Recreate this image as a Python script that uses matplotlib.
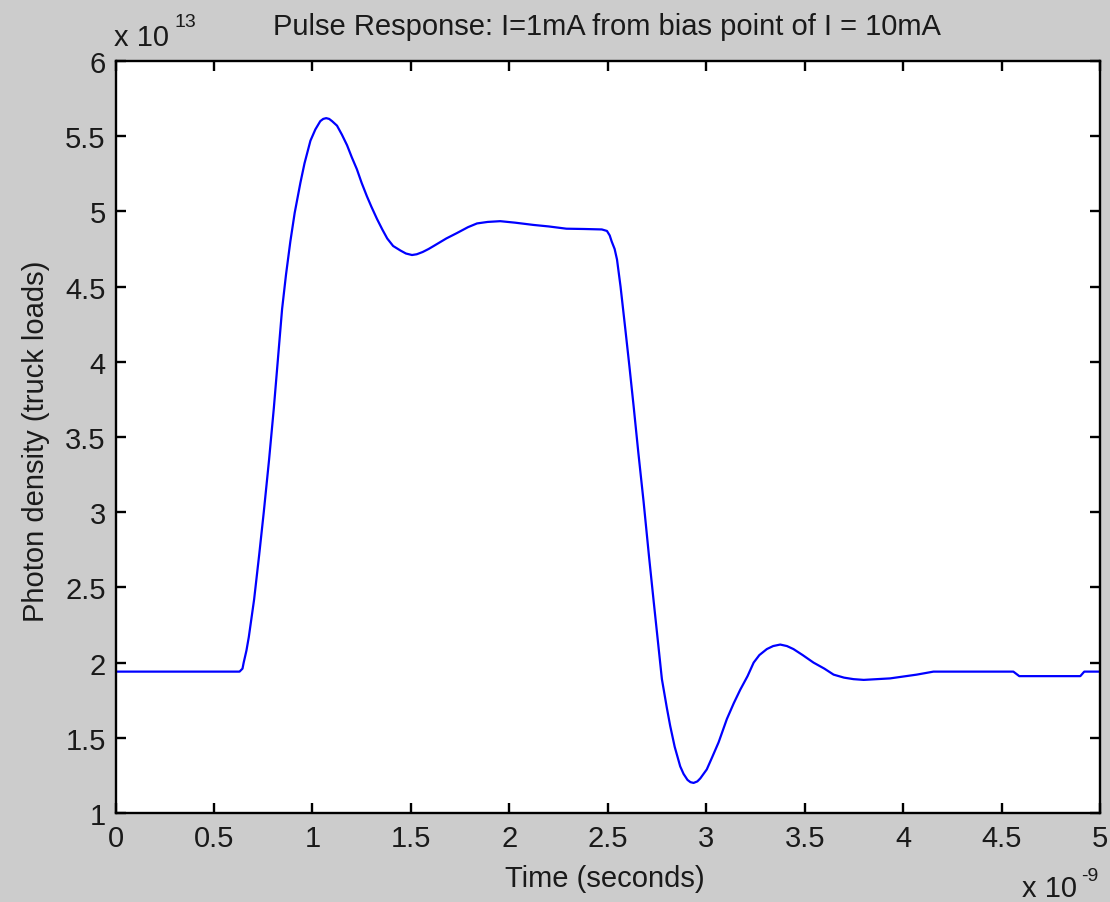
import matplotlib
matplotlib.use("Agg")
import matplotlib.pyplot as plt
from matplotlib.ticker import FixedLocator, FuncFormatter

# Data: time in units of 1e-9 s, photon density in units of 1e13
t_ns = [0.0, 0.63, 0.645, 0.651, 0.665, 0.677, 0.69, 0.704, 0.73, 0.753,
        0.78, 0.804, 0.825, 0.846, 0.866, 0.888, 0.91, 0.939, 0.96, 0.99,
        1.015, 1.04, 1.055, 1.07, 1.085, 1.10, 1.125, 1.15, 1.176, 1.20,
        1.226, 1.25, 1.277, 1.30, 1.328, 1.355, 1.38, 1.41, 1.447, 1.475,
        1.506, 1.53, 1.56, 1.59, 1.616, 1.68, 1.734, 1.79, 1.836, 1.89,
        1.954, 2.03, 2.123, 2.2, 2.29, 2.38, 2.47, 2.496, 2.51, 2.52,
        2.535, 2.547, 2.565, 2.589, 2.61, 2.631, 2.655, 2.682, 2.71, 2.733,
        2.75, 2.775, 2.80, 2.817, 2.84, 2.868, 2.885, 2.905, 2.92, 2.936,
        2.955, 2.97, 3.003, 3.03, 3.063, 3.105, 3.14, 3.173, 3.21, 3.241,
        3.27, 3.308, 3.34, 3.376, 3.41, 3.443, 3.49, 3.545, 3.6, 3.647,
        3.70, 3.748, 3.8, 3.934, 4.069, 4.154, 4.56, 4.59, 4.9, 4.92, 5.0]
density_e13 = [1.94, 1.94, 1.96, 2.00, 2.08, 2.17, 2.29, 2.42, 2.72, 3.00,
               3.35, 3.69, 4.02, 4.35, 4.58, 4.80, 4.99, 5.19, 5.32, 5.47,
               5.545, 5.60, 5.615, 5.62, 5.615, 5.60, 5.57, 5.51, 5.44, 5.36,
               5.28, 5.19, 5.10, 5.03, 4.95, 4.88, 4.82, 4.77, 4.74, 4.72,
               4.71, 4.715, 4.73, 4.75, 4.77, 4.82, 4.856, 4.895, 4.92, 4.93,
               4.935, 4.925, 4.91, 4.90, 4.885, 4.883, 4.88, 4.87, 4.84, 4.80,
               4.75, 4.68, 4.50, 4.22, 3.97, 3.71, 3.40, 3.07, 2.70, 2.41,
               2.20, 1.89, 1.70, 1.58, 1.44, 1.31, 1.26, 1.22, 1.205, 1.20,
               1.21, 1.23, 1.29, 1.37, 1.47, 1.625, 1.73, 1.82, 1.91, 2.00,
               2.05, 2.09, 2.11, 2.12, 2.11, 2.09, 2.05, 2.00, 1.96, 1.92,
               1.90, 1.89, 1.885, 1.895, 1.92, 1.94, 1.94, 1.91, 1.91, 1.94, 1.94]
x_ticks = [0, 0.5, 1, 1.5, 2, 2.5, 3, 3.5, 4, 4.5, 5]
y_ticks = [1, 1.5, 2, 2.5, 3, 3.5, 4, 4.5, 5, 5.5, 6]

title = "Pulse Response: I=1mA from bias point of I = 10mA"
xlabel = "Time (seconds)"
ylabel = "Photon density (truck loads)"

FONT = ["Liberation Sans", "DejaVu Sans"]
plt.rcParams['font.family'] = FONT
TXT = "#1a1a1a"
FS = 21

W, H = 1110, 903
fig = plt.figure(figsize=(W / 100, H / 100), dpi=100, facecolor="#cccccc")
L, R, B, T = 115.5, 1100, 814, 62
ax = fig.add_axes([L / W, (H - B) / H, (R - L) / W, (B - T) / H])
ax.set_facecolor("white")

xs = [v * 1e-9 for v in t_ns]
ys = [v * 1e13 for v in density_e13]
ax.plot(xs, ys, color="#0000ff", lw=1.6, solid_joinstyle="round")

ax.set_xlim(0, 5e-9)
ax.set_ylim(1e13, 6e13)
ax.xaxis.set_major_locator(FixedLocator([v * 1e-9 for v in x_ticks]))
ax.yaxis.set_major_locator(FixedLocator([v * 1e13 for v in y_ticks]))
fmt = lambda v: ("%g" % v)
ax.xaxis.set_major_formatter(FuncFormatter(lambda v, p: fmt(round(v * 1e9, 6))))
ax.yaxis.set_major_formatter(FuncFormatter(lambda v, p: fmt(round(v / 1e13, 6))))

for s in ax.spines.values():
    s.set_linewidth(1.7)
    s.set_color("black")
ax.tick_params(direction="in", length=7, width=1.7, top=True, right=True,
               labelsize=FS, labelcolor=TXT, pad=8)
ax.tick_params(axis="y", pad=7)

def px(x, y):
    return x / W, (H - y) / H

fig.text(*px(607, 35), title, ha="center", va="baseline", fontsize=FS, color=TXT)
fig.text(*px(605, 887), xlabel, ha="center", va="baseline", fontsize=FS, color=TXT)
fig.text(*px(36, 441), ylabel, ha="center", va="center", rotation=90,
         fontsize=FS, color=TXT)

# exponent labels
fig.text(*px(114, 46), "x 10", ha="left", va="baseline", fontsize=FS, color=TXT)
fig.text(*px(174, 27), "13", ha="left", va="baseline", fontsize=14, color=TXT)
fig.text(*px(1022, 897), "x 10", ha="left", va="baseline", fontsize=FS, color=TXT)
fig.text(*px(1081, 881), "-9", ha="left", va="baseline", fontsize=14, color=TXT)

fig.savefig("out.png", dpi=100, facecolor=fig.get_facecolor())
